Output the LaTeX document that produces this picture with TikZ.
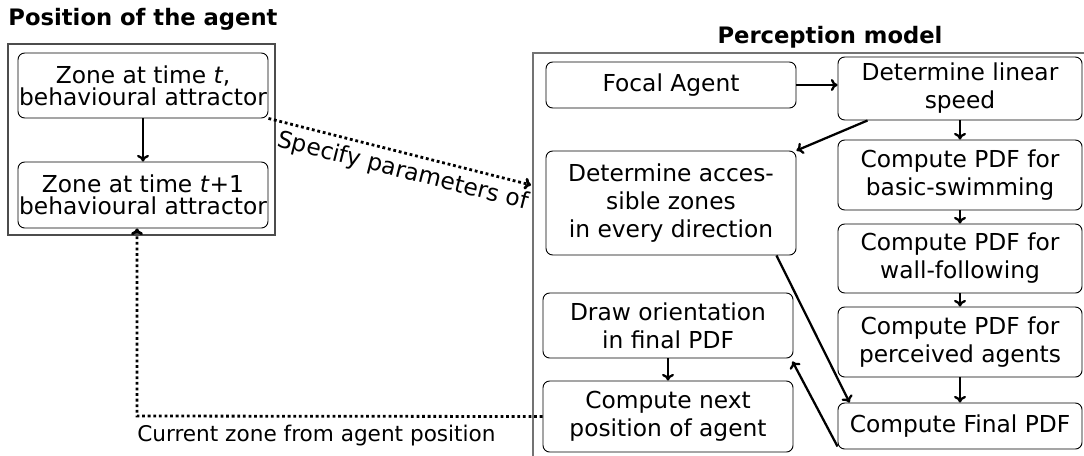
\documentclass[tikz,border=0pt]{standalone}
\usepackage{fontspec}
\setmainfont{DejaVu Sans}
\usetikzlibrary{arrows.meta,calc}
\begin{document}
\begin{tikzpicture}[x=0.75pt,y=-0.75pt,
  box/.style={draw, rounded corners=5pt, line width=0.7pt, align=center, inner sep=0pt,
    font=\fontsize{17.5}{21}\selectfont},
  lbox/.style={box, font=\fontsize{17.5}{16.8}\selectfont},
  arr/.style={line width=1.7pt, -{To[length=5pt,width=9pt]}},
  dotarr/.style={line width=2.1pt, dash pattern=on 2.1pt off 2.1pt, -{To[length=5pt,width=9pt]}},
  frame/.style={draw=black!70, line width=0.8pt, inner sep=0pt},
  pframe/.style={draw=black!55, line width=1.3pt, inner sep=0pt},
  title/.style={font=\fontsize{17}{20}\selectfont\bfseries},
  lab/.style={font=\fontsize{17.5}{21}\selectfont}]
\useasboundingbox (0,0) rectangle (1084,455);

% frames
\node[frame, minimum width={267*0.75pt}, minimum height={191*0.75pt}] (posframe) at (141.5,139.5) {};
\node[pframe, minimum width={600*0.75pt}, minimum height={460*0.75pt}] (percframe) at (833,283) {};

% titles
\node[title] (postitle) at (143,19) {Position of the agent};
\node[title] (perctitle) at (830,37) {Perception model};

% left boxes
\node[lbox, minimum width={250*0.75pt}, minimum height={65*0.75pt}] (A) at (143,85.5)
  {Zone at time \textit{t},\\behavioural attractor};
\node[lbox, minimum width={250*0.75pt}, minimum height={66*0.75pt}] (B) at (143,195)
  {Zone at time \textit{t}+1\\behavioural attractor};

% right column boxes
\node[box, minimum width={244*0.75pt}, minimum height={63*0.75pt}] (speed) at (960,88.5)
  {Determine linear\\speed};
\node[box, minimum width={244*0.75pt}, minimum height={70*0.75pt}] (basic) at (960,175)
  {Compute PDF for\\basic-swimming};
\node[box, minimum width={244*0.75pt}, minimum height={69*0.75pt}] (wall) at (960,258.5)
  {Compute PDF for\\wall-following};
\node[box, minimum width={244*0.75pt}, minimum height={70*0.75pt}] (perc) at (960,342)
  {Compute PDF for\\perceived agents};
\node[box, minimum width={244*0.75pt}, minimum height={46*0.75pt}] (final) at (960,426)
  {Compute Final PDF};

% left column boxes
\node[box, minimum width={250*0.75pt}, minimum height={46*0.75pt}] (focal) at (671,85)
  {Focal Agent};
\node[box, minimum width={250*0.75pt}, minimum height={104*0.75pt}] (access) at (671,203)
  {Determine acces-\\sible zones\\in every direction};
\node[box, minimum width={250*0.75pt}, minimum height={65*0.75pt}] (draw) at (668,325.5)
  {Draw orientation\\in final PDF};
\node[box, minimum width={250*0.75pt}, minimum height={71*0.75pt}] (next) at (668,416.5)
  {Compute next\\position of agent};

% solid arrows
\draw[arr] (A) -- (B);
\draw[arr] (focal) -- (speed.west |- focal);
\draw[arr] ($(speed.south west)+(30,0)$) -- (access.north east);
\draw[arr] (speed) -- (basic);
\draw[arr] (basic) -- (wall);
\draw[arr] (wall) -- (perc);
\draw[arr] (perc) -- (final);
\draw[arr] ($(access.south east)+(-20,0)$) -- ($(final.north west)+(12,0)$);
\draw[arr] ($(final.south west)+(0,-3)$) -- ($(draw.south east)+(-1,3)$);
\draw[arr] (draw) -- (next);

% dotted connectors
\coordinate (specend) at (531,185);
\draw[dotarr] (A.south east) -- (specend)
  node[midway, sloped, below, lab, yshift=-1pt, xshift=6pt] (speclab) {Specify parameters of};
\coordinate (bend) at (137,416);
\draw[dotarr] (next.west) -- (bend) -- ($(B.south)+(-6,0)$);
\node[anchor=north west, inner sep=0pt, font=\fontsize{16.2}{20}\selectfont] (curlab) at (137,425) {Current zone from agent position};
\end{tikzpicture}
\end{document}
